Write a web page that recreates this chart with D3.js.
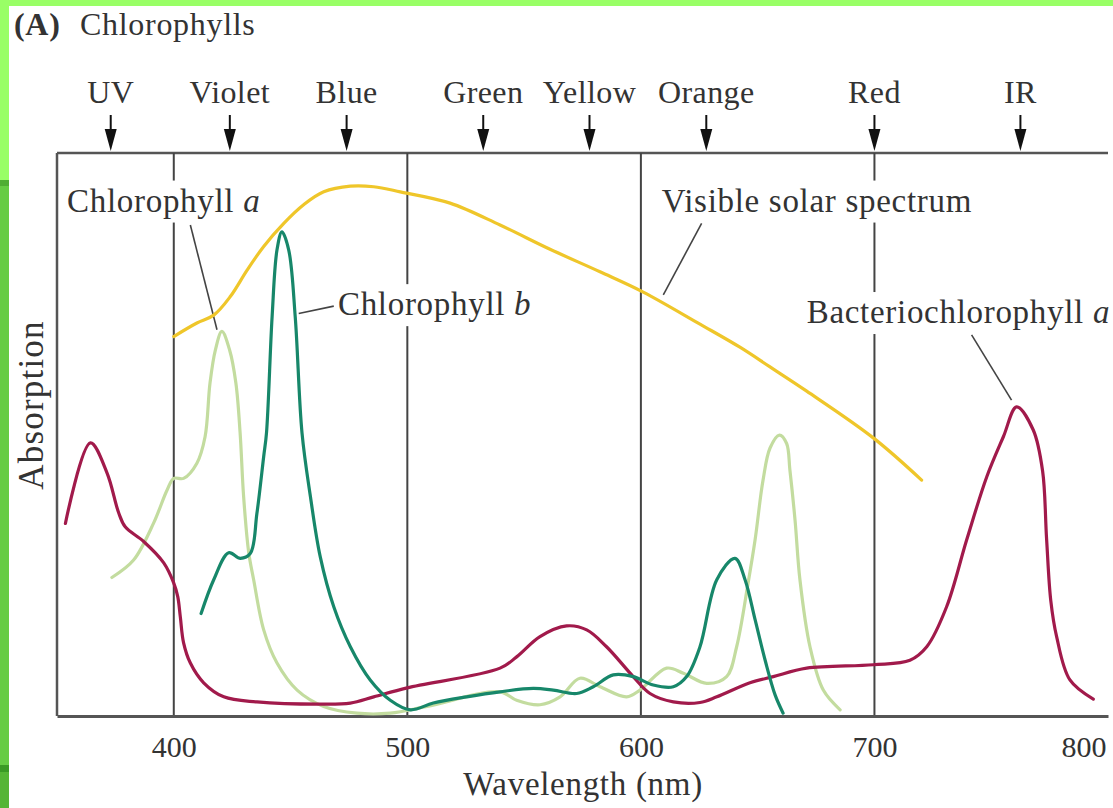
<!DOCTYPE html>
<html lang="en">
<head>
<meta charset="utf-8" />
<title>Chlorophylls</title>
<script src="https://d3js.org/d3.v7.min.js"></script>
<style>
  body { margin: 0; background: #fff; }
  svg text { font-family: "Liberation Serif", "Times New Roman", serif; fill: #333; }
</style>
</head>
<body>
<div id="chart"></div>
<script>
// wavelength (nm), absorption (0-100, arbitrary)
const bacterioNm  = [353.6,364.3,371.4,376.4,379.2,387.1,395.7,400.0,401.7,402.8,404.2,407.1,412.8,421.4,435.6,464.2,475.6,485.6,499.9,539.7,546.8,556.8,568.2,576.8,585.3,596.7,603.9,613.9,625.3,632.5,646.7,656.7,671.0,699.5,715.2,722.4,730.9,739.5,748.1,755.2,760.9,768.0,772.0,773.7,775.5,778.0,783.7,793.7];
const bacterioAbs = [34.2,48.5,43.2,36.1,33.6,31.0,27.2,23.6,21.2,17.6,13.0,9.4,5.9,3.4,2.5,2.1,2.3,3.4,5.0,8.5,10.5,14.1,16.0,15.3,12.3,7.0,4.0,2.5,2.4,3.4,5.9,7.0,8.5,9.1,9.9,12.3,19.4,31.3,42.5,49.6,54.9,50.8,43.5,31.5,20.5,14.1,6.4,3.0];

const chlANm  = [373.5,382.8,391.4,397.1,400.0,404.2,409.9,413.4,415.5,417.8,420.6,423.9,426.6,428.4,429.9,432.1,434.2,438.5,444.2,452.8,464.2,478.4,492.7,508.4,539.7,546.8,556.8,565.4,573.9,582.5,593.9,599.6,611.0,618.2,628.2,636.7,641.0,645.9,648.9,652.3,655.3,659.3,662.4,663.8,666.0,668.1,672.4,678.1,685.3];
const chlAAbs = [24.6,27.7,34.3,40.1,42.2,42.2,44.9,49.6,59.1,65.0,68.3,65.0,59.1,50.3,39.0,29.0,24.2,15.3,9.4,4.6,1.7,0.5,0.5,1.7,4.3,2.8,2.0,3.4,6.7,5.2,3.4,4.6,8.5,7.6,5.8,7.0,12.3,23.6,31.3,41.9,47.6,49.9,48.4,43.7,34.8,24.2,12.3,4.6,1.1];

const chlBNm  = [411.7,417.1,423.5,428.5,432.8,435.6,438.5,439.7,442.1,444.2,446.3,449.2,452.0,454.9,458.5,462.7,468.5,475.6,484.1,492.7,501.3,511.1,525.4,539.7,553.9,562.5,572.5,579.6,588.2,596.7,605.3,613.9,619.6,625.3,632.5,640.3,644.6,648.9,653.2,657.5,660.9];
const chlBAbs = [18.2,24.2,29.0,28.0,28.9,36.0,46.1,50.3,70.9,82.8,86.0,82.8,70.9,50.3,39.0,28.3,19.4,12.3,6.4,2.8,1.1,2.3,3.4,4.3,4.9,4.6,4.0,5.2,7.3,7.0,5.5,5.2,7.0,12.3,24.2,28.0,24.2,17.1,9.9,3.7,0.5];

const solarNm  = [400.0,409.9,417.1,424.2,431.4,438.5,447.1,455.6,464.2,475.6,485.6,497.0,518.3,539.7,561.1,582.5,601.0,625.3,642.4,655.3,671.0,699.5,720.2];
const solarAbs = [67.4,69.8,71.2,74.5,79.2,83.4,87.5,90.8,93.1,94.1,94.0,93.1,91.1,87.2,82.9,78.9,75.3,69.6,65.5,62.0,57.7,49.4,41.9];

const tickValues = [400, 500, 600, 700, 800];
const dividerNm = [400, 500, 600, 700];
const bandNames = ["UV", "Violet", "Blue", "Green", "Yellow", "Orange", "Red", "IR"];
const bandNm = [373, 424, 474, 532.5, 578, 628, 700, 762.5];

const labels = [
  { parts: ["Chlorophyll ", "a"], nm: 354.3, abs: 89.6 },
  { parts: ["Chlorophyll ", "b"], nm: 470.3, abs: 71.2 },
  { parts: ["Visible solar spectrum"], nm: 608.9, abs: 89.6 },
  { parts: ["Bacteriochlorophyll ", "a"], nm: 671.0, abs: 69.8 }
];
const leaders = [
  [[407.1, 87.2], [418.5, 68.6]],
  [[453.5, 71.5], [468.5, 72.8]],
  [[626.0, 87.5], [609.6, 74.8]],
  [[741.6, 67.7], [758.7, 56.1]]
];

const W = 1113, H = 808;
const svg = d3.select("#chart").append("svg").attr("width", W).attr("height", H);

// slide border
svg.append("rect").attr("x", 0).attr("y", 0).attr("width", W).attr("height", H).attr("fill", "#fff");
svg.append("rect").attr("x", 0).attr("y", 0).attr("width", W).attr("height", 6).attr("fill", "#99ff66");
svg.append("rect").attr("x", 0).attr("y", 0).attr("width", 9).attr("height", 180).attr("fill", "#99ff66");
svg.append("rect").attr("x", 0).attr("y", 180).attr("width", 9).attr("height", 6).attr("fill", "#4fae33");
svg.append("rect").attr("x", 0).attr("y", 186).attr("width", 9).attr("height", 579).attr("fill", "#66cc44");
svg.append("rect").attr("x", 0).attr("y", 765).attr("width", 9).attr("height", 7).attr("fill", "#3a9a25");
svg.append("rect").attr("x", 0).attr("y", 772).attr("width", 9).attr("height", 36).attr("fill", "#55b535");

const x = d3.scaleLinear().domain([350, 800]).range([57, 1108]);
const y = d3.scaleLinear().domain([0, 100]).range([716, 153]);

const frame = "#555";
const fs = "33px", ls = "0.7px";

// title
const title = svg.append("text").attr("x", 14).attr("y", 35).style("font-size", "32px").style("letter-spacing", ls);
title.append("tspan").style("font-weight", "bold").text("(A)");
title.append("tspan").attr("x", 80).text("Chlorophylls");

// frame: top, left
svg.append("line").attr("x1", x(350)).attr("x2", x(800)).attr("y1", y(100)).attr("y2", y(100))
  .attr("stroke", frame).attr("stroke-width", 2.5);
svg.append("line").attr("x1", x(350)).attr("x2", x(350)).attr("y1", y(100)).attr("y2", y(0))
  .attr("stroke", frame).attr("stroke-width", 2.5);

// dividers
svg.selectAll(".div").data(dividerNm).enter().append("line")
  .attr("x1", d => x(d)).attr("x2", d => x(d)).attr("y1", y(100)).attr("y2", y(0))
  .attr("stroke", "#444").attr("stroke-width", 2);

// x axis
const xAxis = d3.axisBottom(x).tickValues(tickValues).tickSize(0).tickPadding(14);
const gx = svg.append("g").attr("transform", `translate(0,${y(0)})`).call(xAxis);
gx.select(".domain").attr("stroke", frame).attr("stroke-width", 3);
gx.selectAll("text").style("font-size", "30px").style("font-family", "Liberation Serif").attr("fill", "#333")
  .attr("dy", "0.9em");
gx.selectAll(".tick").filter(d => d === 800).select("text").attr("text-anchor", "end").attr("dx", "-2");

svg.append("text").attr("x", 583).attr("y", 795).attr("text-anchor", "middle")
  .style("font-size", fs).style("letter-spacing", ls).text("Wavelength (nm)");
svg.append("text").attr("transform", "translate(43,405) rotate(-90)").attr("text-anchor", "middle")
  .style("font-size", "35px").style("letter-spacing", "1.2px").text("Absorption");

// band names with arrows
const bands = svg.selectAll(".band").data(bandNames).enter().append("g")
  .attr("transform", (d, i) => `translate(${x(bandNm[i])},0)`);
bands.append("text").attr("y", 103).attr("text-anchor", "middle").style("font-size", "32px")
  .style("letter-spacing", "0.4px").text(d => d);
bands.append("line").attr("y1", 115).attr("y2", 132).attr("stroke", "#111").attr("stroke-width", 2);
bands.append("path").attr("d", "M-6,129L6,129L0,151Z").attr("fill", "#111");

// label backgrounds (cut the divider lines) and labels
const labelG = svg.append("g");
const labelTexts = labels.map(l => {
  const t = labelG.append("text").attr("x", x(l.nm)).attr("y", y(l.abs))
    .style("font-size", fs).style("letter-spacing", ls);
  l.parts.forEach((p, i) => {
    const ts = t.append("tspan").text(p);
    if (i === 1) ts.style("font-style", "italic");
  });
  return t;
});
labelTexts.forEach(t => {
  const b = t.node().getBBox();
  labelG.insert("rect", "text").attr("x", b.x - 3).attr("y", b.y - 2)
    .attr("width", b.width + 6).attr("height", b.height + 6).attr("fill", "#fff");
});

// leader lines
svg.selectAll(".leader").data(leaders).enter().append("line")
  .attr("x1", d => x(d[0][0])).attr("y1", d => y(d[0][1]))
  .attr("x2", d => x(d[1][0])).attr("y2", d => y(d[1][1]))
  .attr("stroke", "#444").attr("stroke-width", 1.6);

// curves
const line = d3.line().curve(d3.curveCatmullRom.alpha(0.5)).x(d => x(d[0])).y(d => y(d[1]));
const series = [
  { nm: solarNm, abs: solarAbs, color: "#efc62a" },
  { nm: chlANm, abs: chlAAbs, color: "#c3dc9f" },
  { nm: bacterioNm, abs: bacterioAbs, color: "#a11a4b" },
  { nm: chlBNm, abs: chlBAbs, color: "#17876a" }
];
series.forEach(s => {
  svg.append("path").datum(s.nm.map((n, i) => [n, s.abs[i]]))
    .attr("d", line).attr("fill", "none").attr("stroke", s.color)
    .attr("stroke-width", 3.2).attr("stroke-linejoin", "round").attr("stroke-linecap", "round");
});
</script>
</body>
</html>
